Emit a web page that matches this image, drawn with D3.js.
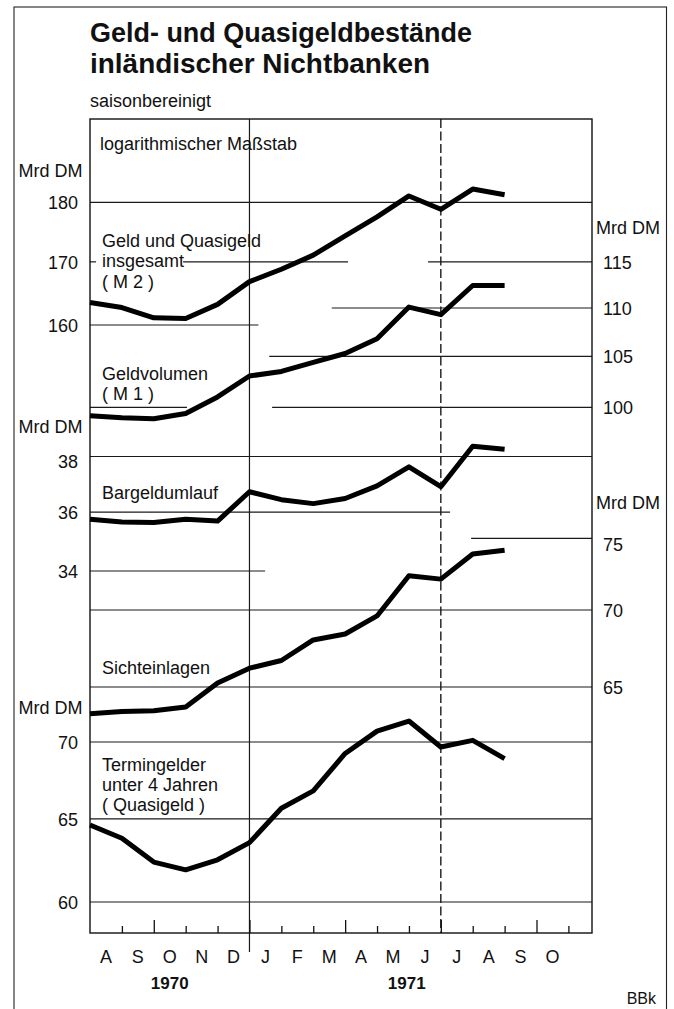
<!DOCTYPE html>
<html><head><meta charset="utf-8">
<script src="https://cdn.jsdelivr.net/npm/d3@7/dist/d3.min.js"></script>
<style>
body{margin:0;background:#fff}
text{font-family:"Liberation Sans",Arial,Helvetica,sans-serif;fill:#111}
</style>
</head><body>
<svg id="c" width="674" height="1009"></svg>
<script>
// ---- data (end-of-month values, end of Jul 1970 .. end of Aug 1971), Mrd DM ----
const monthLabels = ["A","S","O","N","D","J","F","M","A","M","J","J","A","S","O"];
const yearLabels = ["1970","1971"];
const m2 = [163.5,162.7,161.1,161.0,163.2,166.8,168.8,171.1,174.3,177.5,181.1,178.8,182.3,181.3];
const m1 = [99.2,99.0,98.9,99.4,101.0,103.05,103.5,104.4,105.3,106.8,110.1,109.3,112.4,112.4];
const bargeld = [35.75,35.66,35.64,35.75,35.69,36.72,36.44,36.30,36.48,36.93,37.62,36.90,38.38,38.27];
const sicht = [63.35,63.49,63.53,63.76,65.25,66.19,66.68,68.01,68.40,69.60,72.35,72.11,73.87,74.15];
const termin = [64.62,63.80,62.35,61.89,62.49,63.53,65.67,66.78,69.23,70.74,71.43,69.66,70.11,68.89];
const m2Ticks = [160,170,180];
const m1Ticks = [100,105,110,115];
const bargeldTicks = [34,36,38];
const sichtTicks = [65,70,75];
const terminTicks = [60,65,70];

// ---- layout ----
const svg = d3.select("#c");
const L = 90, R = 592, T = 119, B = 933;
const x = d3.scaleLinear().domain([0, 15.74]).range([L, R]);
const yM2 = d3.scaleLog().domain([160,180]).range([325,202.3]);
const yM1 = d3.scaleLog().domain([100,115]).range([407.3,261.7]);
const yBar = d3.scaleLog().domain([34,38]).range([571,456.5]);
const ySicht = d3.scaleLog().domain([65,75]).range([687,538.3]);
const yTerm = d3.scaleLog().domain([60,70]).range([902,742]);

const fontSm = 18;

// outer border
svg.append("rect").attr("x",14).attr("y",7).attr("width",652.5).attr("height",1020)
  .attr("fill","none").attr("stroke","#222").attr("stroke-width",1.1);

// title
svg.append("text").attr("x",90).attr("y",41.5).attr("font-size",27).attr("font-weight","bold")
  .attr("textLength",382).attr("lengthAdjust","spacingAndGlyphs").text("Geld- und Quasigeldbestände");
svg.append("text").attr("x",90).attr("y",73).attr("font-size",27).attr("font-weight","bold")
  .attr("textLength",340).attr("lengthAdjust","spacingAndGlyphs").text("inländischer Nichtbanken");
svg.append("text").attr("x",90).attr("y",106.5).attr("font-size",fontSm).text("saisonbereinigt");

// gridlines (segments in month units along x)
const grid = [
  {s:yM2, v:180, segs:[[0,15.74]]},
  {s:yM2, v:170, segs:[[0,0.19],[2.92,8.09],[10.6,15.74]]},
  {s:yM2, v:160, segs:[[0,5.28]]},
  {s:yM1, v:110, segs:[[7.58,15.74]]},
  {s:yM1, v:105, segs:[[5.62,15.74]]},
  {s:yM1, v:100, segs:[[0,3.04],[5.71,15.74]]},
  {s:yBar, v:38, segs:[[0,15.74]]},
  {s:yBar, v:36, segs:[[0,11.29]]},
  {s:yBar, v:34, segs:[[0,5.49]]},
  {s:ySicht, v:75, segs:[[11.95,15.74]]},
  {s:ySicht, v:70, segs:[[0,15.74]]},
  {s:ySicht, v:65, segs:[[0,15.74]]},
  {s:yTerm, v:70, segs:[[0,15.74]]},
  {s:yTerm, v:65, segs:[[0,15.74]]},
  {s:yTerm, v:60, segs:[[0,15.74]]}
];
const gg = svg.append("g").attr("stroke","#1a1a1a").attr("stroke-width",1.2);
grid.forEach(g => g.segs.forEach(sg => {
  gg.append("line").attr("x1",x(sg[0])).attr("x2",x(sg[1]))
    .attr("y1",g.s(g.v)).attr("y2",g.s(g.v));
}));

// vertical year line and dashed line
svg.append("line").attr("x1",x(5)).attr("x2",x(5)).attr("y1",T).attr("y2",952)
  .attr("stroke","#1a1a1a").attr("stroke-width",1.2);
svg.append("line").attr("x1",x(11)).attr("x2",x(11)).attr("y1",T).attr("y2",B)
  .attr("stroke","#1a1a1a").attr("stroke-width",1.4).attr("stroke-dasharray","9,3.5");

// frame
svg.append("rect").attr("x",L).attr("y",T).attr("width",R-L).attr("height",B-T)
  .attr("fill","none").attr("stroke","#111").attr("stroke-width",1.4);

// x ticks (upward from bottom frame)
const minorK = d3.range(1,16).filter(k => k % 3 !== 2);
const majorK = d3.range(1,16).filter(k => k % 3 === 2);
const axShort = d3.axisTop(x).tickValues(minorK).tickSize(7).tickFormat("");
const axTall = d3.axisTop(x).tickValues(majorK).tickSize(13).tickFormat("");
[axShort, axTall].forEach(a => {
  const g = svg.append("g").attr("transform",`translate(0,${B})`).call(a);
  g.select(".domain").remove();
  g.selectAll("line").attr("stroke","#111").attr("stroke-width",1.3);
});

// month labels
svg.append("g").selectAll("text").data(monthLabels).join("text")
  .attr("x",(d,i)=>x(i+0.5)).attr("y",962.5).attr("text-anchor","middle")
  .attr("font-size",fontSm).text(d=>d);
// year labels
const yearPos = [2.5, 9.93];
svg.append("g").selectAll("text").data(yearLabels).join("text")
  .attr("x",(d,i)=>x(yearPos[i])).attr("y",988.5).attr("text-anchor","middle")
  .attr("font-size",17).attr("font-weight","bold").text(d=>d);
svg.append("text").attr("x",656).attr("y",1003.5).attr("text-anchor","end")
  .attr("font-size",16).text("BBk");

// y axes labels
function yAxis(scale, ticks, side, shifts){
  const a = (side==="left" ? d3.axisLeft(scale) : d3.axisRight(scale))
    .tickValues(ticks).tickSize(0).tickPadding(side==="left"?12:11).tickFormat(d3.format("d"));
  const g = svg.append("g").attr("transform",`translate(${side==="left"?L:R},0)`).call(a);
  g.select(".domain").remove();
  g.selectAll("text").attr("font-size",fontSm).attr("font-family",null)
    .attr("dy",d => (0.36*fontSm + (shifts && shifts[d] ? shifts[d] : 0)) + "px");
  g.attr("font-family",null);
}
yAxis(yM2, m2Ticks, "left");
yAxis(yM1, m1Ticks, "right");
yAxis(yBar, bargeldTicks, "left", {38:4.5});
yAxis(ySicht, sichtTicks, "right", {75:5.5});
yAxis(yTerm, terminTicks, "left");

// unit labels
const units = [
  {x:18.5, y:177},
  {x:18.5, y:433},
  {x:18.5, y:714},
  {x:596, y:233.5},
  {x:596, y:508.5}
];
svg.append("g").selectAll("text").data(units).join("text")
  .attr("x",d=>d.x).attr("y",d=>d.y).attr("font-size",fontSm).text("Mrd DM");

// series labels
const labels = [
  {x:100, y:149.5, lines:["logarithmischer Maßstab"]},
  {x:102, y:247, lines:["Geld und Quasigeld","insgesamt","( M 2 )"]},
  {x:102, y:380, lines:["Geldvolumen","( M 1 )"]},
  {x:102, y:499, lines:["Bargeldumlauf"]},
  {x:102, y:674, lines:["Sichteinlagen"]},
  {x:102, y:770.5, lines:["Termingelder","unter 4 Jahren","( Quasigeld )"]}
];
labels.forEach(lb => {
  const t = svg.append("text").attr("x",lb.x).attr("y",lb.y).attr("font-size",fontSm);
  lb.lines.forEach((s,i) => t.append("tspan").attr("x",lb.x).attr("dy",i?20.3:0).text(s));
});

// series lines
const series = [[m2,yM2],[m1,yM1],[bargeld,yBar],[sicht,ySicht],[termin,yTerm]];
series.forEach(([vals, ys]) => {
  const line = d3.line().x((d,i)=>x(i)).y(d=>ys(d));
  svg.append("path").attr("d",line(vals)).attr("fill","none").attr("stroke","#000")
    .attr("stroke-width",5).attr("stroke-linejoin","round").attr("stroke-linecap","butt");
});
</script>
</body></html>
